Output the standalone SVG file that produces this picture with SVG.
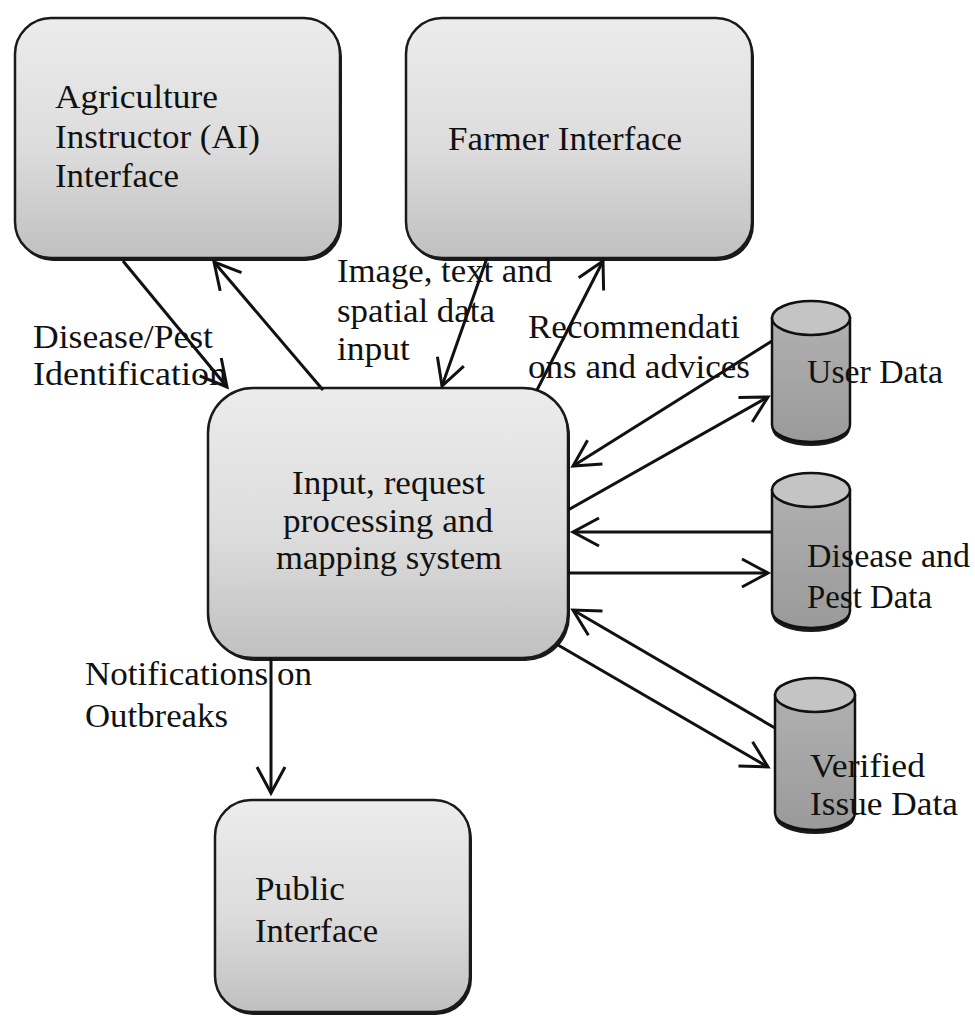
<svg xmlns="http://www.w3.org/2000/svg" width="975" height="1017" viewBox="0 0 975 1017">
<style>
text{font-family:"Liberation Serif","Times New Roman",serif;font-size:34px;fill:#111}
.box{stroke:#1a1a1a;stroke-width:2.5;fill:url(#boxg)}
.shadow{fill:#1a1a1a}
.cyl{stroke:#111;stroke-width:2.5;fill:url(#cylg)}
.cyltop{stroke:#111;stroke-width:2.5;fill:#c4c4c4}
.conn{stroke:#111;stroke-width:3;fill:none;marker-end:url(#arr)}
</style>
<defs>
<linearGradient id="boxg" x1="0" y1="0" x2="0" y2="1">
<stop offset="0" stop-color="#ececec"/>
<stop offset="0.55" stop-color="#dcdcdc"/>
<stop offset="1" stop-color="#c0c0c0"/>
</linearGradient>
<linearGradient id="cylg" x1="0" y1="0" x2="0" y2="1">
<stop offset="0" stop-color="#b0b0b0"/>
<stop offset="1" stop-color="#9a9a9a"/>
</linearGradient>
<marker id="arr" markerUnits="userSpaceOnUse" markerWidth="40" markerHeight="40" viewBox="-30 -20 40 40" refX="0" refY="0" orient="auto">
<path d="M-26,-14 L0,0 L-26,14" fill="none" stroke="#111" stroke-width="3"/>
</marker>
</defs>

<g id="ai-interface">
<rect class="shadow" x="17" y="21" width="325" height="240" rx="36"/>
<rect class="box" x="15" y="18" width="325" height="240" rx="36"/>
<text x="55" y="108" textLength="163" lengthAdjust="spacingAndGlyphs">Agriculture</text>
<text x="55" y="148" textLength="205" lengthAdjust="spacingAndGlyphs">Instructor (AI)</text>
<text x="55" y="187" textLength="124" lengthAdjust="spacingAndGlyphs">Interface</text>
</g>

<g id="farmer-interface">
<rect class="shadow" x="408" y="21" width="346" height="240" rx="36"/>
<rect class="box" x="406" y="18" width="346" height="240" rx="36"/>
<text x="448" y="150" textLength="234" lengthAdjust="spacingAndGlyphs">Farmer Interface</text>
</g>

<g id="processing-system">
<rect class="shadow" x="210" y="391" width="360" height="270" rx="45"/>
<rect class="box" x="208" y="388" width="360" height="270" rx="45"/>
<text x="292" y="494" textLength="193" lengthAdjust="spacingAndGlyphs">Input, request</text>
<text x="283" y="532" textLength="210" lengthAdjust="spacingAndGlyphs">processing and</text>
<text x="276" y="569" textLength="226" lengthAdjust="spacingAndGlyphs">mapping system</text>
</g>

<g id="public-interface">
<rect class="shadow" x="217" y="803" width="255" height="212" rx="36"/>
<rect class="box" x="215" y="800" width="255" height="212" rx="36"/>
<text x="255" y="900" textLength="90" lengthAdjust="spacingAndGlyphs">Public</text>
<text x="255" y="942" textLength="123" lengthAdjust="spacingAndGlyphs">Interface</text>
</g>

<g id="user-data">
<path class="shadow" d="M772,318 V426 A39,17 0 0 0 850,426 V318 Z" transform="translate(0,3)"/>
<path class="cyl" d="M772,318 V425 A39,17 0 0 0 850,425 V318 Z"/>
<ellipse class="cyltop" cx="811" cy="318" rx="39" ry="17"/>
<text x="807" y="383" textLength="136" lengthAdjust="spacingAndGlyphs">User Data</text>
</g>

<g id="disease-pest-data">
<path class="shadow" d="M772,490 V612 A39,17 0 0 0 850,612 V490 Z" transform="translate(0,3)"/>
<path class="cyl" d="M772,490 V611 A39,17 0 0 0 850,611 V490 Z"/>
<ellipse class="cyltop" cx="811" cy="490" rx="39" ry="17"/>
<text x="807" y="567" textLength="163" lengthAdjust="spacingAndGlyphs">Disease and</text>
<text x="807" y="608" textLength="125" lengthAdjust="spacingAndGlyphs">Pest Data</text>
</g>

<g id="verified-issue-data">
<path class="shadow" d="M775,695 V814 A40,17 0 0 0 855,814 V695 Z" transform="translate(0,3)"/>
<path class="cyl" d="M775,695 V813 A40,17 0 0 0 855,813 V695 Z"/>
<ellipse class="cyltop" cx="815" cy="695" rx="40" ry="17"/>
<text x="810" y="777" textLength="115" lengthAdjust="spacingAndGlyphs">Verified</text>
<text x="810" y="815" textLength="148" lengthAdjust="spacingAndGlyphs">Issue Data</text>
</g>

<g id="connectors">
<line class="conn" x1="123" y1="261" x2="227" y2="387"/>
<line class="conn" x1="323" y1="390" x2="214" y2="262"/>
<line class="conn" x1="487" y1="258" x2="442" y2="386"/>
<line class="conn" x1="537" y1="390" x2="603" y2="261"/>
<line class="conn" x1="772" y1="341" x2="573" y2="466"/>
<line class="conn" x1="568" y1="510" x2="768" y2="397"/>
<line class="conn" x1="772" y1="532" x2="573" y2="532"/>
<line class="conn" x1="568" y1="573" x2="768" y2="573"/>
<line class="conn" x1="775" y1="728" x2="573" y2="610"/>
<line class="conn" x1="558" y1="645" x2="768" y2="767"/>
<line class="conn" x1="271" y1="658" x2="271" y2="793"/>
</g>

<g id="labels">
<text x="33" y="348" textLength="180" lengthAdjust="spacingAndGlyphs">Disease/Pest</text>
<text x="33" y="385" textLength="194" lengthAdjust="spacingAndGlyphs">Identification</text>
<text x="337" y="282" textLength="215" lengthAdjust="spacingAndGlyphs">Image, text and</text>
<text x="337" y="322" textLength="158" lengthAdjust="spacingAndGlyphs">spatial data</text>
<text x="337" y="360" textLength="73" lengthAdjust="spacingAndGlyphs">input</text>
<text x="528" y="338" textLength="212" lengthAdjust="spacingAndGlyphs">Recommendati</text>
<text x="528" y="378" textLength="222" lengthAdjust="spacingAndGlyphs">ons and advices</text>
<text x="85" y="685" textLength="227" lengthAdjust="spacingAndGlyphs">Notifications on</text>
<text x="85" y="727" textLength="143" lengthAdjust="spacingAndGlyphs">Outbreaks</text>
</g>
</svg>
